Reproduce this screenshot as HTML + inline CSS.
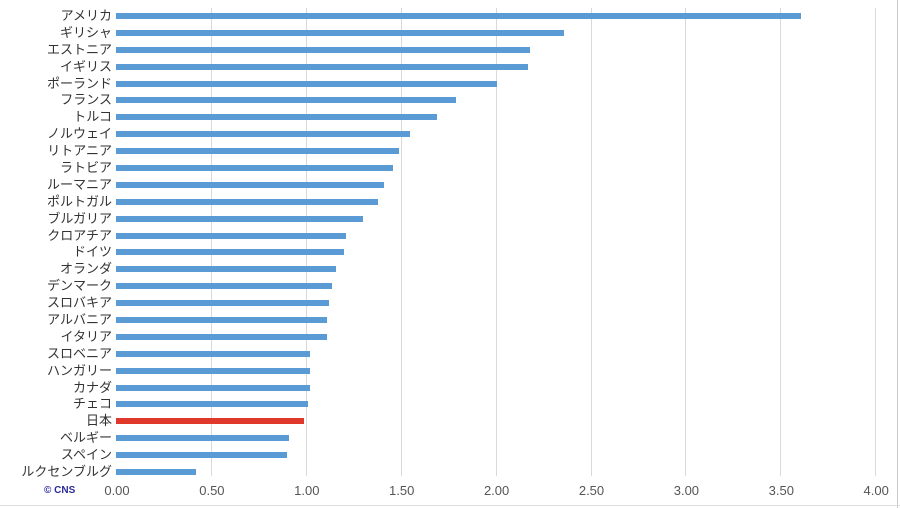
<!DOCTYPE html>
<html><head><meta charset="utf-8"><style>
body{margin:0;width:900px;height:508px;background:#fff;position:relative;overflow:hidden;font-family:"Liberation Sans","Noto Sans CJK JP",sans-serif}
.g{position:absolute;top:8px;height:468px;width:1px;background:#d9d9d9}
.b{position:absolute;left:116px;height:6px;background:#5b9bd5}
.l{position:absolute;right:788px;font-size:13px;color:#333;white-space:nowrap;line-height:14px}
.t{position:absolute;top:483px;font-size:13px;color:#555;width:40px;text-align:center;margin-left:-20px}
</style></head><body>
<div style="position:absolute;right:2px;top:0;width:1px;height:508px;background:#ccc"></div>
<div style="position:absolute;left:0;bottom:2px;width:900px;height:1px;background:#ddd"></div>
<div id="c"></div>
<div style="position:absolute;left:44px;top:485px;font-size:10px;font-weight:bold;color:#2a2a9a">© CNS</div>
<script>
var d=[["アメリカ",3.61],["ギリシャ",2.36],["エストニア",2.18],["イギリス",2.17],["ポーランド",2.01],["フランス",1.79],["トルコ",1.69],["ノルウェイ",1.55],["リトアニア",1.49],["ラトビア",1.46],["ルーマニア",1.41],["ポルトガル",1.38],["ブルガリア",1.30],["クロアチア",1.21],["ドイツ",1.20],["オランダ",1.16],["デンマーク",1.14],["スロバキア",1.12],["アルバニア",1.11],["イタリア",1.11],["スロベニア",1.02],["ハンガリー",1.02],["カナダ",1.02],["チェコ",1.01],["日本",0.99],["ベルギー",0.91],["スペイン",0.90],["ルクセンブルグ",0.42]];
var h="",s=189.8;
for(var i=1;i<=8;i++)h+='<div class="g" style="left:'+(116+i*s/2)+'px"></div>';
for(var i=0;i<=8;i++)h+='<div class="t" style="left:'+(117+i*s/2)+'px">'+(i/2).toFixed(2)+'</div>';
d.forEach(function(r,i){var y=16+i*16.89;h+='<div class="b" style="top:'+(y-3)+'px;width:'+(r[1]*s)+'px;'+(r[0]=="日本"?'background:#e0392b':'')+'"></div><div class="l" style="top:'+(y-7)+'px">'+r[0]+'</div>';});
document.getElementById("c").innerHTML=h;
</script>
</body></html>
